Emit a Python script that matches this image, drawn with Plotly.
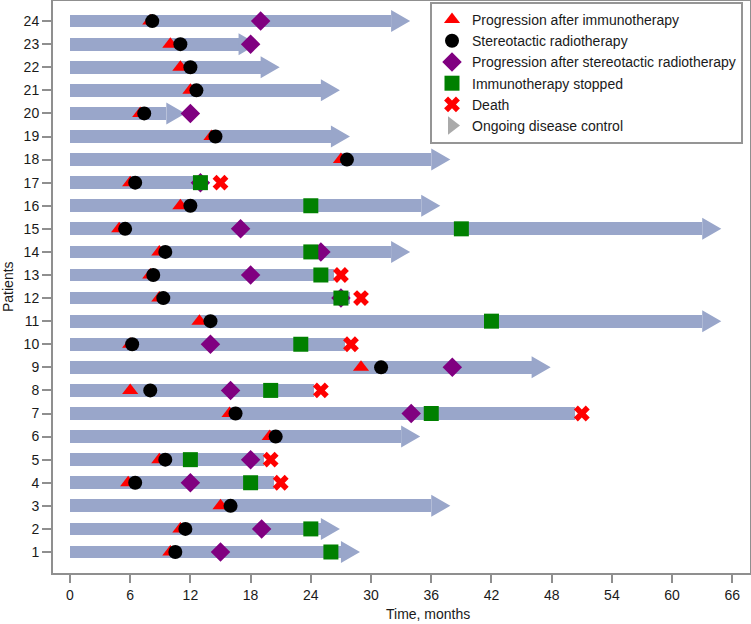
import plotly.graph_objects as go

# ---------------- data ----------------
patients = list(range(1, 25))
# end of the bar shaft (months)
bar_end = [27.0, 25.0, 36.0, 20.3, 19.3, 33.0, 50.3, 24.3, 46.0, 27.4, 63.0, 27.9,
           26.3, 32.0, 63.0, 35.0, 13.7, 36.0, 26.0, 9.6, 25.0, 19.0, 16.8, 32.0]
# 1 = ongoing disease control (arrow)
ongoing = [1, 1, 1, 0, 0, 1, 0, 0, 1, 0, 1, 0, 0, 1, 1, 1, 0, 1, 1, 1, 1, 1, 1, 1]
prog_immuno = [10.0, 11.0, 15.0, 5.8, 8.9, 19.9, 15.9, 6.0, 29.0, 6.0, 12.9, 8.9,
               8.0, 8.9, 4.9, 11.0, 6.0, 27.0, 14.1, 7.0, 12.0, 11.0, 10.0, 8.0]
sbrt = [10.5, 11.5, 16.0, 6.5, 9.5, 20.5, 16.5, 8.0, 31.0, 6.2, 14.0, 9.3,
        8.3, 9.5, 5.5, 12.0, 6.5, 27.6, 14.5, 7.4, 12.6, 12.0, 11.0, 8.2]
prog_sbrt = [15.0, 19.1, None, 12.0, 18.0, None, 34.0, 16.0, 38.1, 14.0, None, 27.0,
             18.0, 25.0, 17.0, None, 13.0, None, None, 12.0, None, None, 18.0, 19.0]
immuno_stop = [26.0, 24.0, None, 18.0, 12.0, None, 36.0, 20.0, None, 23.0, 42.0, 27.0,
               25.0, 24.0, 39.0, 24.0, 13.0, None, None, None, None, None, None, None]
death = [None, None, None, 21.0, 20.0, None, 51.0, 25.0, None, 28.0, None, 29.0,
         27.0, None, None, None, 15.0, None, None, None, None, None, None, None]
x_ticks = [0, 6, 12, 18, 24, 30, 36, 42, 48, 54, 60, 66]

# ---------------- styles ----------------
BAR_COLOR = "#99a6ca"
AXIS_COLOR = "#8f8f8f"
FONT = "Liberation Sans, Arial, Helvetica, sans-serif"
HEAD_LEN = 1.9      # months
HEAD_HALF = 0.475   # patient units
BAR_W = 0.55

fig = go.Figure()

# shafts
fig.add_trace(go.Bar(
    y=patients, x=bar_end, base=0, orientation="h", width=BAR_W,
    marker=dict(color=BAR_COLOR, line=dict(width=0)),
    showlegend=False, hoverinfo="skip"))

# arrow heads (filled triangles in data coordinates)
ax, ay = [], []
for p, e, o in zip(patients, bar_end, ongoing):
    if o:
        ax += [e, e + HEAD_LEN, e, e, None]
        ay += [p - HEAD_HALF, p, p + HEAD_HALF, p - HEAD_HALF, None]
fig.add_trace(go.Scatter(
    x=ax, y=ay, mode="lines", fill="toself", fillcolor=BAR_COLOR,
    line=dict(width=0, color=BAR_COLOR), showlegend=False, hoverinfo="skip"))

events = [
    ("Progression after immunotherapy", prog_immuno, "triangle-up", "#ff0000", 14),
    ("Stereotactic radiotherapy", sbrt, "circle", "#000000", 14),
    ("Progression after stereotactic radiotherapy", prog_sbrt, "diamond", "#800080", 15),
    ("Immunotherapy stopped", immuno_stop, "square", "#008000", 15),
    ("Death", death, "x", "#ff0000", 14),
]
for name, vals, sym, col, sz in events:
    fig.add_trace(go.Scatter(
        x=vals, y=patients, mode="markers", name=name,
        marker=dict(symbol=sym, color=col, size=sz, line=dict(width=0))))

fig.add_trace(go.Scatter(
    x=[None], y=[None], mode="markers", name="Ongoing disease control",
    marker=dict(symbol="triangle-right", color="#aaaaaa", size=16)))

fig.update_layout(
    width=751, height=624,
    margin=dict(l=53, r=1, t=1, b=51, autoexpand=False),
    paper_bgcolor="white", plot_bgcolor="white",
    font=dict(family=FONT, size=14, color="#1a1a1a"),
    showlegend=True,
    legend=dict(x=(743 - 53) / 697, y=(573 - 2) / 572, xanchor="right", yanchor="top",
                bgcolor="white", bordercolor="#959595", borderwidth=2,
                font=dict(size=14), itemwidth=30, tracegroupgap=0),
    bargap=0,
)
fig.update_xaxes(
    range=[-1.69, 67.76], tickvals=x_ticks, ticktext=[str(t) for t in x_ticks],
    showgrid=False, zeroline=False, showline=True, mirror=True, automargin=False,
    linecolor=AXIS_COLOR, linewidth=2, ticks="outside", ticklen=8,
    tickwidth=2, tickcolor=AXIS_COLOR, tickfont=dict(size=14))
fig.update_yaxes(
    range=[0.09, 24.87], tickvals=patients, ticktext=[str(p) for p in patients],
    showgrid=False, zeroline=False, showline=True, mirror=True, automargin=False,
    linecolor=AXIS_COLOR, linewidth=2, ticks="outside", ticklen=9,
    tickwidth=2, tickcolor=AXIS_COLOR, tickfont=dict(size=14))

fig.add_annotation(text="Time, months", xref="paper", yref="paper",
                   x=(428 - 53) / 697, y=-41 / 572, xanchor="center", yanchor="middle",
                   showarrow=False, font=dict(size=14))
fig.add_annotation(text="Patients", xref="paper", yref="paper",
                   x=-45 / 697, y=0.5, xanchor="center", yanchor="middle",
                   textangle=-90, showarrow=False, font=dict(size=14))

fig.write_html("out.html", config={"displayModeBar": False},
               post_script="document.body.style.margin='0';document.body.style.padding='0';")
